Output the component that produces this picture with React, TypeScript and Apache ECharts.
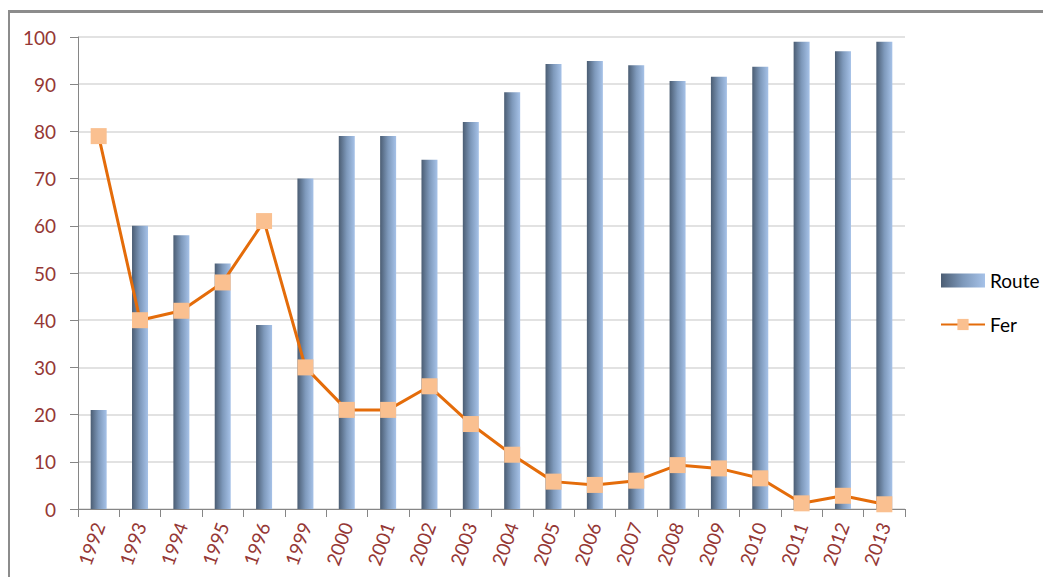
import React, { useEffect, useRef } from "react";
import * as echarts from "echarts";

const years = [
  "1992", "1993", "1994", "1995", "1996", "1999", "2000", "2001", "2002", "2003",
  "2004", "2005", "2006", "2007", "2008", "2009", "2010", "2011", "2012", "2013",
];
const route = [21, 60, 58, 52, 39, 70, 79, 79, 74, 82, 88.3, 94.3, 94.9, 94, 90.7, 91.6, 93.7, 99, 97, 99];
const fer = [79, 40, 42, 48, 61, 30, 21, 21, 26, 18, 11.5, 5.8, 5.1, 6, 9.3, 8.6, 6.5, 1.2, 2.8, 1];

const labelColor = "#953735";
const fontFamily = "Lato, 'Noto Sans', sans-serif";

const App = () => {
  const chartRef = useRef<HTMLDivElement>(null);

  useEffect(() => {
    if (!chartRef.current) return;
    const chart = echarts.init(chartRef.current, undefined, { renderer: "svg" });

    // left dark, right light: the cylinder look of the bars
    const barColor = new echarts.graphic.LinearGradient(0, 0, 1, 0, [
      { offset: 0, color: "#4b5d73" },
      { offset: 0.5, color: "#7e99bb" },
      { offset: 1, color: "#a6c2e8" },
    ]);

    const option: echarts.EChartsOption = {
      animation: false,
      textStyle: { fontFamily },
      grid: { left: 78, right: 146, top: 37, bottom: 76, containLabel: false },
      legend: {
        orient: "vertical",
        left: 940,
        top: 271,
        padding: 0,
        itemWidth: 44,
        itemHeight: 14,
        itemGap: 25,
        textStyle: { fontSize: 19, color: "#000", fontFamily },
        data: [
          { name: "Route", icon: "rect" },
          { name: "Fer" },
        ],
      },
      xAxis: {
        type: "category",
        data: years,
        boundaryGap: true,
        axisLine: { lineStyle: { color: "#868686", width: 1 } },
        axisTick: { show: true, length: 8, lineStyle: { color: "#868686" } },
        axisLabel: {
          rotate: 70,
          color: labelColor,
          fontSize: 19,
          fontFamily,
          margin: 14,
        },
      },
      yAxis: {
        type: "value",
        min: 0,
        max: 100,
        interval: 10,
        axisLine: { show: true, lineStyle: { color: "#868686", width: 1 } },
        axisTick: { show: true, length: 8, lineStyle: { color: "#868686" } },
        axisLabel: { color: labelColor, fontSize: 19, fontFamily, margin: 22 },
        splitLine: { lineStyle: { color: "#d9d9d9", width: 1.5 } },
      },
      series: [
        {
          name: "Route",
          type: "bar",
          data: route,
          barWidth: 16,
          itemStyle: { color: barColor },
        },
        {
          name: "Fer",
          type: "line",
          data: fer,
          symbol: "rect",
          symbolSize: 16,
          lineStyle: { color: "#e46c0a", width: 3 },
          itemStyle: { color: "#fac090", borderWidth: 0 },
        },
      ],
    };

    chart.setOption(option);
    return () => chart.dispose();
  }, []);

  return (
    <div style={{ position: "relative", width: 1051, height: 585, margin: -8, overflow: "hidden", background: "#fff" }}>
      <div
        style={{
          position: "absolute",
          left: 7,
          top: 10,
          width: 1100,
          height: 700,
          borderLeft: "3px solid #8c8c8c",
          borderTop: "3px solid #8c8c8c",
        }}
      />
      <div ref={chartRef} style={{ position: "absolute", left: 0, top: 0, width: 1051, height: 585 }} />
    </div>
  );
};

export default App;
